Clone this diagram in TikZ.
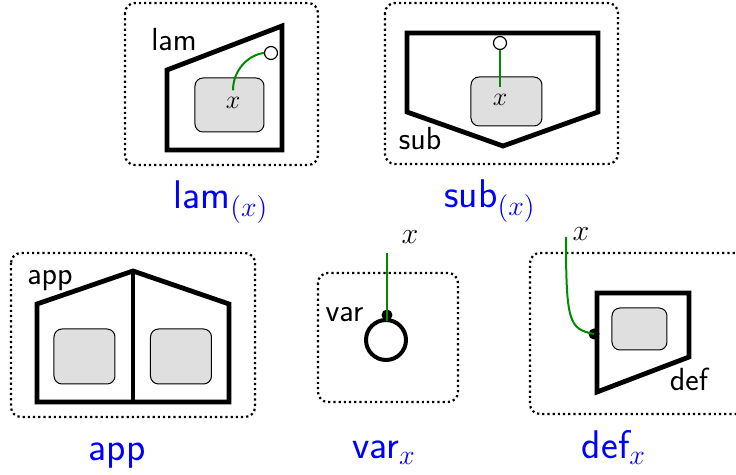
\documentclass[tikz,border=0pt]{standalone}
\usepackage{fix-cm}
\begin{document}
\begin{tikzpicture}[
  x=0.5pt, y=-0.5pt,
  frame/.style  ={dash pattern=on 1.1pt off 1.5pt, line width=1.1pt, rounded corners=5pt},
  shell/.style  ={line width=2.4pt, line join=miter},
  hole/.style   ={draw, line width=0.5pt, fill=gray!25, rounded corners=4pt},
  port/.style   ={circle, draw, line width=0.6pt, fill=white, inner sep=0pt, minimum size=6.5pt},
  knob/.style   ={circle, fill=black, inner sep=0pt, minimum size=5.5pt},
  wire/.style   ={green!55!black, line width=1pt},
  tag/.style    ={font=\sffamily\fontsize{16}{18}\selectfont},
  caption/.style={font=\sffamily\fontsize{20}{24}\selectfont, text=blue, anchor=base},
  xin/.style    ={font=\fontsize{13}{15}\selectfont},
  xout/.style   ={font=\fontsize{15}{18}\selectfont},
]
  \useasboundingbox (0,0) rectangle (736,475);
  % lam
  \draw[frame] (125,3) rectangle (318,165);
  \draw[shell] (167,70) -- (282,26) -- (282,150) -- (167,150) -- cycle;
  \node[hole, minimum width=34.5pt, minimum height=27pt] (lb) at (229.5,105) {};
  \node[xin] (lx) at (233,103) {$x$};
  \node[port] (lp) at (271,53) {};
  \draw[wire] (lx.north) .. controls +(0,-20) and +(-16,2) .. (lp.west);
  \node[tag] (lt) at (174,40) {lam};
  \node[caption] (lc) at (221,209) {lam$_{(x)}$};
  % sub
  \draw[frame] (385,3) rectangle (618,164);
  \draw[shell] (407,33) -- (598,33) -- (598,112) -- (503,146) -- (407,112) -- cycle;
  \node[hole, minimum width=35.5pt, minimum height=24.5pt] (sb) at (506.5,101.5) {};
  \node[xin] (sx) at (500,100) {$x$};
  \node[port] (sp) at (500,43) {};
  \draw[wire] (sx.north) -- (sp.south);
  \node[tag] (st) at (420,138.5) {sub};
  \node[caption] (sc) at (490,208) {sub$_{(x)}$};
  % app
  \draw[frame] (11,253) rectangle (255,417);
  \draw[shell] (37,402) -- (37,304) -- (133,271) -- (229,304) -- (229,402) -- cycle;
  \draw[shell] (133,271) -- (133,402);
  \foreach \n/\c in {al/84.5, ar/181}
    \node[hole, minimum width=30.5pt, minimum height=27.5pt] (\n) at (\c,356.5) {};
  \node[tag] (at) at (50,281) {app};
  \node[caption] (ac) at (117,461) {app};
  % var
  \draw[frame] (318,273) rectangle (458,402);
  \node[knob] (vd) at (387,315) {};
  \node[circle, draw, line width=2pt, inner sep=0pt, minimum size=20pt] (vc) at (386,340) {};
  \coordinate (vt) at (387,253);
  \draw[wire] (vt) -- (vd.south);
  \node[xout] (vx) at (410,237) {$x$};
  \node[tag] (vl) at (344.5,314.5) {var};
  \node[caption] (vn) at (384,459) {var$_x$};
  % def
  \draw[frame] (740,253) -- (530,253) -- (530,414) -- (740,414);
  \node[hole, minimum width=27.5pt, minimum height=21pt] (db) at (639.5,329) {};
  \node[knob] (dd) at (594,334) {};
  \draw[shell] (597,293) -- (689,293) -- (689,357) -- (597,392) -- cycle;
  \coordinate (dt) at (566,237);
  \draw[wire] (dt) .. controls +(0,85) and +(-25,-5) .. (dd.center);
  \node[xout] (dx) at (581,234) {$x$};
  \node[tag] (dl) at (689,379) {def};
  \node[caption] (dn) at (614,459) {def$_x$};
\end{tikzpicture}
\end{document}
